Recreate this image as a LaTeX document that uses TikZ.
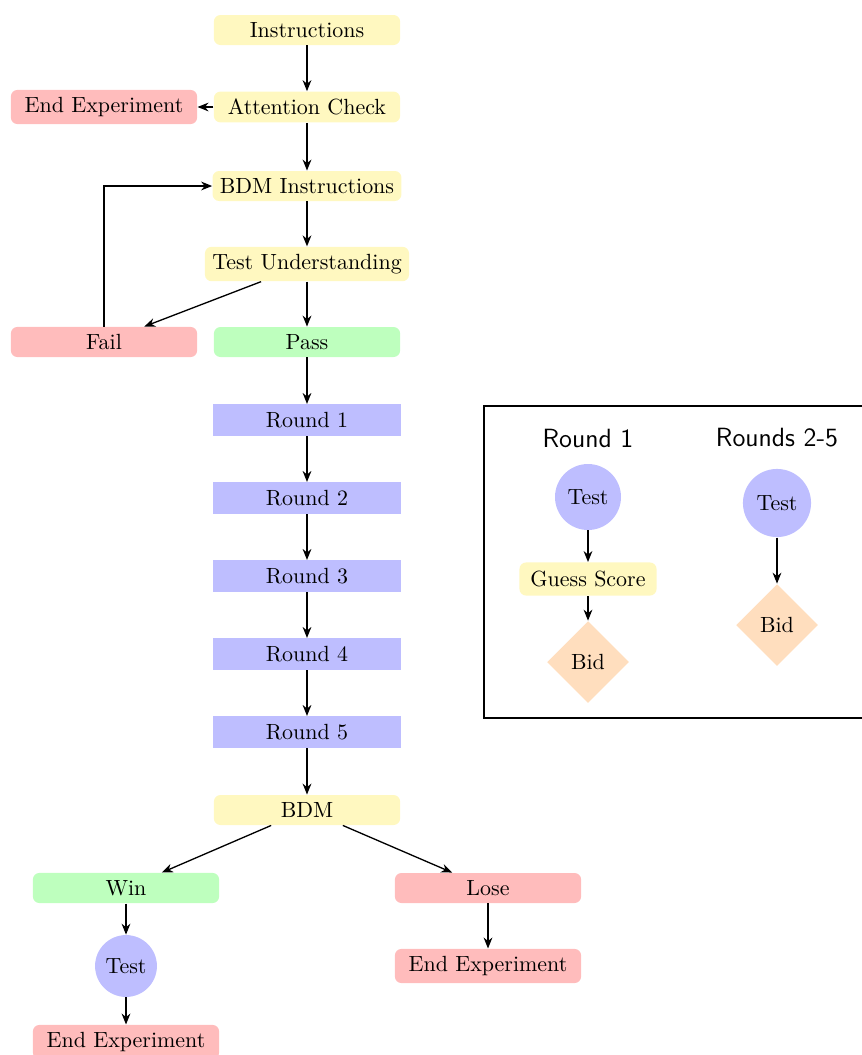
\documentclass[tikz,border=0pt]{standalone}
\usepackage{xcolor}
\usetikzlibrary{shapes.geometric, arrows.meta}
\definecolor{stepyellow}{RGB}{255,248,192}
\definecolor{stepred}{RGB}{255,188,188}
\definecolor{stepgreen}{RGB}{190,255,190}
\definecolor{stepblue}{RGB}{190,190,255}
\definecolor{steporange}{RGB}{255,222,190}

\begin{document}
\begin{tikzpicture}[>={Stealth[length=5pt, width=4pt]},
	stage/.style={rectangle, rounded corners=3pt, minimum width=2.98cm, minimum height=0.48cm},
	neutral/.style={stage, fill=stepyellow},
	stop/.style={stage, fill=stepred},
	good/.style={stage, fill=stepgreen},
	roundbox/.style={rectangle, fill=stepblue, minimum width=3cm, minimum height=0.5cm},
	testnode/.style={circle, fill=stepblue, inner sep=1pt},
	bidnode/.style={diamond, fill=steporange, minimum size=1.31cm, inner sep=0pt},
	legendtitle/.style={font=\sffamily\large}]
	\useasboundingbox (0, 0) rectangle (13.79, -16.88);
	% main flow
	\node[neutral] (instr) at (4.912, -0.48) {Instructions};
	\node[neutral] (attn) at (4.912, -1.712) {Attention Check};
	\node[stop] (endA) at (1.664, -1.712) {End Experiment};
	\node[neutral] (bdmInstr) at (4.912, -2.976) {BDM Instructions};
	\node[neutral] (testU) at (4.912, -4.224) {Test Understanding};
	\node[stop] (fail) at (1.664, -5.472) {Fail};
	\node[good] (pass) at (4.912, -5.472) {Pass};
	\foreach \i in {1,...,5}
		\node[roundbox] (round\i) at (4.912, {-6.72-1.248*(\i-1)}) {Round \i};
	\node[neutral] (bdm) at (4.912, -12.96) {BDM};
	\node[good] (win) at (2.016, -14.208) {Win};
	\node[stop] (lose) at (7.808, -14.208) {Lose};
	\node[testnode, minimum size=0.99cm] (testW) at (2.016, -15.456) {Test};
	\node[stop] (endW) at (2.016, -16.672) {End Experiment};
	\node[stop] (endL) at (7.808, -15.456) {End Experiment};
	\draw[semithick, ->]
		(instr) edge (attn)
		(attn) edge (endA)
		(attn) edge (bdmInstr)
		(bdmInstr) edge (testU)
		(testU) edge (pass)
		(testU) edge (fail)
		(pass) edge (round1)
		(round1) edge (round2)
		(round2) edge (round3)
		(round3) edge (round4)
		(round4) edge (round5)
		(round5) edge (bdm)
		(bdm) edge (win)
		(bdm) edge (lose)
		(win) edge (testW)
		(testW) edge (endW)
		(lose) edge (endL)
		(fail) |- (bdmInstr);
	% legend
	\draw[semithick] (7.744, -6.496) rectangle (13.9, -11.488);
	\node[legendtitle] (title1) at (9.408, -7.008) {Round 1};
	\node[legendtitle] (title2) at (12.432, -7.008) {Rounds 2-5};
	\node[testnode, minimum size=1.056cm] (testA) at (9.408, -7.952) {Test};
	\node[neutral, minimum width=0, minimum height=0.53cm, inner xsep=5pt] (guess) at (9.408, -9.264) {Guess Score};
	\node[bidnode] (bidA) at (9.408, -10.592) {Bid};
	\node[testnode, minimum size=1.09cm] (testB) at (12.432, -8.048) {Test};
	\node[bidnode] (bidB) at (12.432, -10.0) {Bid};
	\draw[semithick, ->]
		(testA) edge (guess)
		(guess) edge (bidA)
		(testB) edge (bidB);
\end{tikzpicture}
\end{document}
